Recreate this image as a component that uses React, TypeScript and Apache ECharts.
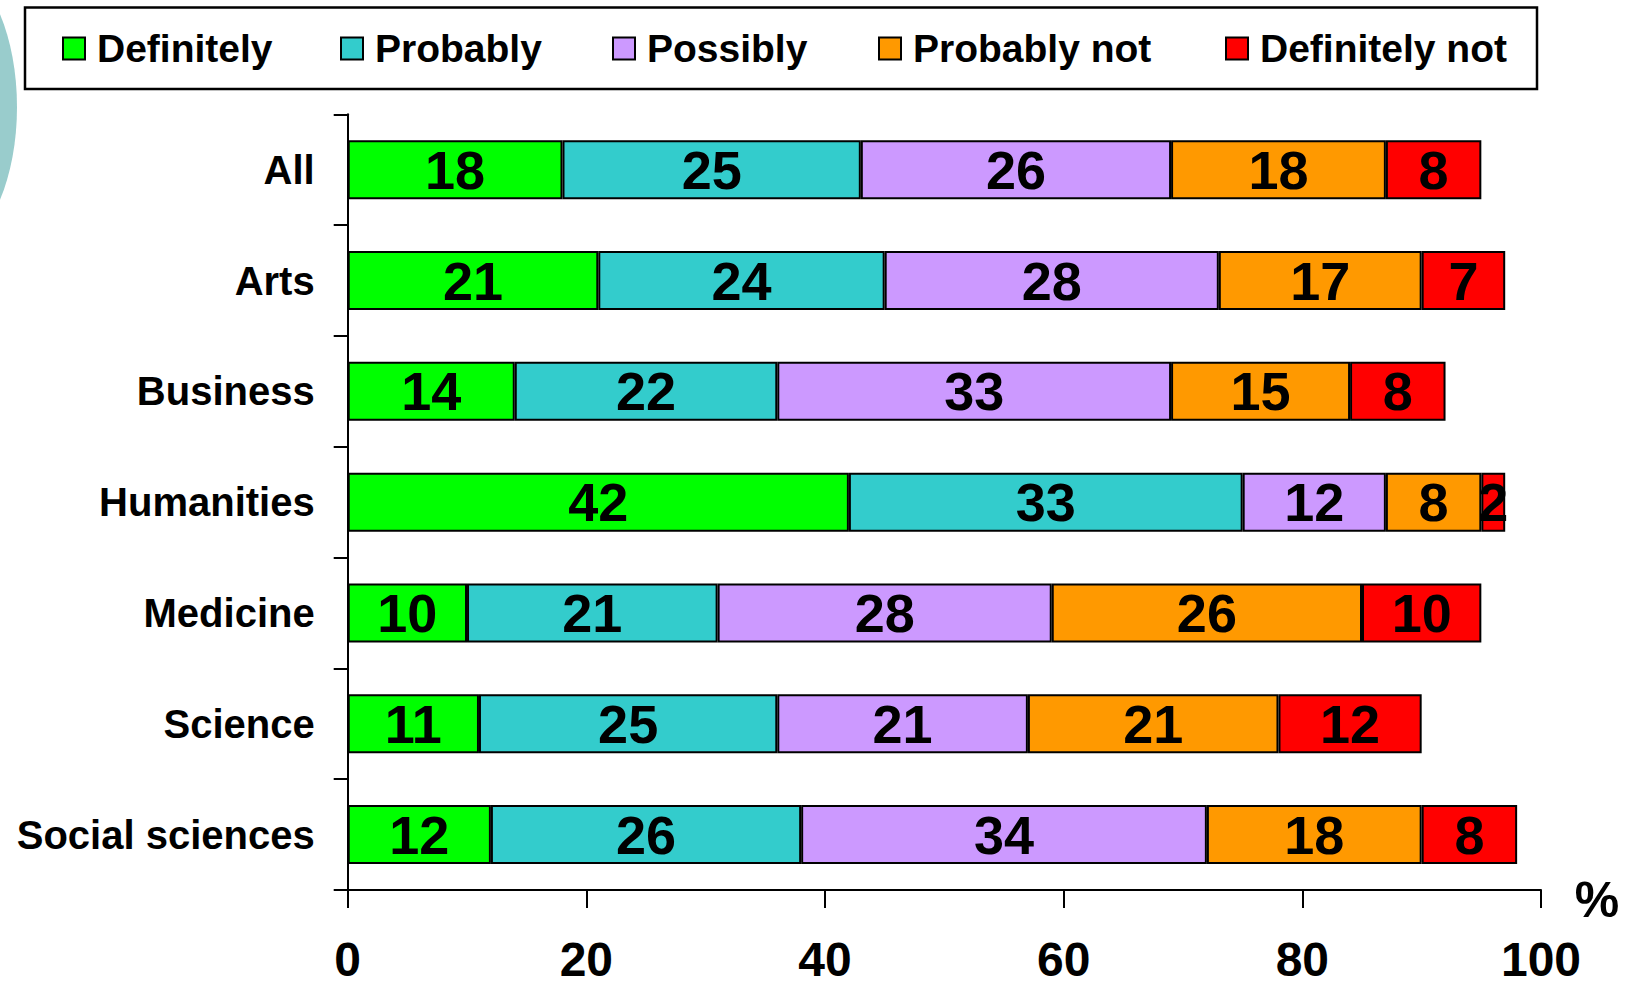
import React, { useEffect, useRef } from "react";
import * as echarts from "echarts";

const categories = ["All", "Arts", "Business", "Humanities", "Medicine", "Science", "Social sciences"];
const seriesNames = ["Definitely", "Probably", "Possibly", "Probably not", "Definitely not"];
const definitely = [18, 21, 14, 42, 10, 11, 12];
const probably = [25, 24, 22, 33, 21, 25, 26];
const possibly = [26, 28, 33, 12, 28, 21, 34];
const probablyNot = [18, 17, 15, 8, 26, 21, 18];
const definitelyNot = [8, 7, 8, 2, 10, 12, 8];
const seriesValues = [definitely, probably, possibly, probablyNot, definitelyNot];
const colors = ["#00ff00", "#33cccc", "#cc99ff", "#ff9900", "#ff0000"];
const xTicks = [0, 20, 40, 60, 80, 100];
const unitLabel = "%";

const FONT = '"Liberation Sans", Arial, sans-serif';
const legendLefts = [62, 340, 612, 878, 1225];

export default function App() {
  const ref = useRef<HTMLDivElement>(null);
  useEffect(() => {
    if (!ref.current) return;
    const chart = echarts.init(ref.current, null, { renderer: "svg" });
    const option = {
      animation: false,
      backgroundColor: "#ffffff",
      grid: { left: 347.7, top: 114.3, right: 86, bottom: 99, containLabel: false },
      legend: seriesNames.map((name, i) => ({
        show: true,
        data: [name],
        left: legendLefts[i],
        top: 29,
        padding: 0,
        itemWidth: 22,
        itemHeight: 22,
        icon: "rect",
        selectedMode: false,
        itemStyle: { borderColor: "#000", borderWidth: 2 },
        textStyle: {
          fontFamily: FONT,
          fontWeight: "bold",
          fontSize: 39,
          color: "#000",
          padding: [0, 0, 0, 7],
        },
      })),
      xAxis: {
        type: "value",
        min: xTicks[0],
        max: xTicks[xTicks.length - 1],
        interval: xTicks[1] - xTicks[0],
        axisLine: { show: true, lineStyle: { color: "#000", width: 2 } },
        axisTick: { show: true, length: 18, lineStyle: { color: "#000", width: 2 } },
        splitLine: { show: false },
        axisLabel: {
          margin: 47,
          fontFamily: FONT,
          fontWeight: "bold",
          fontSize: 48,
          lineHeight: 44,
          color: "#000",
        },
      },
      yAxis: {
        type: "category",
        data: categories,
        inverse: true,
        axisLine: { show: true, lineStyle: { color: "#000", width: 2 } },
        axisTick: { show: true, length: 14, lineStyle: { color: "#000", width: 2 } },
        axisLabel: {
          margin: 33,
          fontFamily: FONT,
          fontWeight: "bold",
          fontSize: 40,
          color: "#000",
        },
      },
      series: seriesNames.map((name, i) => ({
        name,
        type: "bar",
        stack: "total",
        data: seriesValues[i],
        barWidth: 59,
        itemStyle: { color: colors[i], borderColor: "#000", borderWidth: 2 },
        label: {
          show: true,
          position: "inside",
          formatter: "{c}",
          fontFamily: FONT,
          fontWeight: "bold",
          fontSize: 54,
          color: "#000",
          textBorderWidth: 0,
        },
      })),
      graphic: [
        {
          type: "ellipse",
          shape: { cx: -60, cy: 107, rx: 77, ry: 148 },
          style: { fill: "#99cccc" },
          z: 0,
        },
        {
          type: "rect",
          shape: { x: 25, y: 7.5, width: 1512, height: 81.5 },
          style: { fill: "rgba(0,0,0,0)", stroke: "#000", lineWidth: 2.5 },
          z: 0,
        },
        {
          type: "text",
          x: 1597,
          y: 900,
          style: {
            text: unitLabel,
            align: "center",
            verticalAlign: "middle",
            font: `bold 50px ${FONT}`,
            fill: "#000",
          },
        },
      ],
    };
    chart.setOption(option as any);
    return () => chart.dispose();
  }, []);
  return (
    <div
      ref={ref}
      style={{ position: "fixed", left: 0, top: 0, width: 1627, height: 989, background: "#fff" }}
    />
  );
}
